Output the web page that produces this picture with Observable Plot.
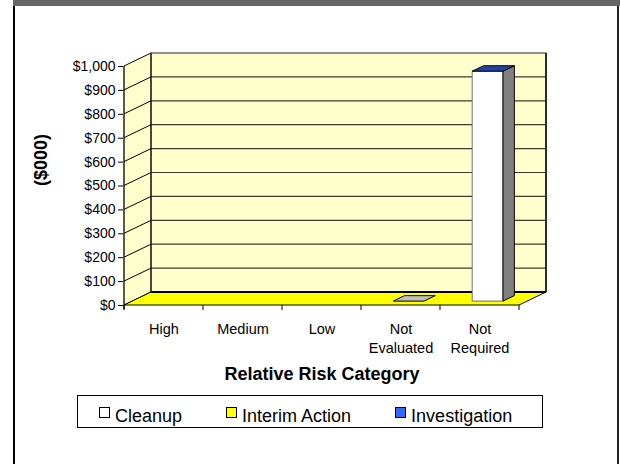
<!DOCTYPE html>
<html>
<head>
<meta charset="utf-8">
<script src="https://cdn.jsdelivr.net/npm/d3@7"></script>
<script src="https://cdn.jsdelivr.net/npm/@observablehq/plot@0.6"></script>
<style>
  body { margin: 0; background: #fff; font-family: "Liberation Sans", Arial, sans-serif; }
  #wrap { position: relative; width: 620px; height: 464px; overflow: hidden; background: #fff; }
  #topbar { position: absolute; left: 13px; top: 0; width: 607px; height: 6px; background: #666; }
  #lline { position: absolute; left: 13px; top: 6px; width: 2px; height: 458px; background: #000; }
  #rline { position: absolute; left: 617px; top: 6px; width: 2px; height: 458px; background: #222; }
  #chart { position: absolute; left: 0; top: 0; }
  #legend { position: absolute; left: 77px; top: 395px; width: 466px; height: 33px; box-sizing: border-box;
            border: 1px solid #000; display: flex; padding-left: 21px; padding-top: 11px; gap: 44px;
            font-size: 18px; line-height: 18px; color: #000; }
  .item { display: flex; align-items: flex-start; white-space: nowrap; }
  .sw { width: 11px; height: 11px; box-sizing: border-box; border: 1px solid #000; margin-right: 5px; }
</style>
</head>
<body>
<div id="wrap">
  <div id="topbar"></div>
  <div id="lline"></div>
  <div id="rline"></div>
  <div id="chart"></div>
  <div id="legend"></div>
</div>
<script>
// ---- data ----
const categories = ["High", "Medium", "Low", "Not Evaluated", "Not Required"];
const categoryLabels = ["High", "Medium", "Low", "Not\nEvaluated", "Not\nRequired"];
const seriesNames = ["Cleanup", "Interim Action", "Investigation"];
const cleanup = [null, null, null, 0, 962];
const interimAction = [null, null, null, null, null];
const investigation = [null, null, null, null, 0];
const yTicks = [0, 100, 200, 300, 400, 500, 600, 700, 800, 900, 1000];
const xTitle = "Relative Risk Category";
const yTitle = "($000)";

// ---- style ----
const seriesValues = [cleanup, interimAction, investigation];
const faceColors = {
  front: ["#FFFFFF", "#FFFF00", "#3366FF"],
  side:  ["#808080", "#999900", "#1A3380"],
  top:   ["#C0C0C0", "#CCCC00", "#2244AA"],
  legend:["#FFFFFF", "#FFFF00", "#3366FF"]
};
const DEPTH = {dx: 27, dy: -13};          // wall depth projection
const BAR = {width: 0.39, front: 0.3, depth: 0.42};
const WALL = "#FFFFCC", FLOOR = "#FFFF00";

function bandOf(x) {
  return typeof x.bandwidth === "function" ? x.bandwidth() : x.bandwidth;
}
function poly(g, pts, fill, stroke, sw) {
  g.append("polygon").attr("points", pts.map(p => p.join(",")).join(" "))
    .attr("fill", fill).attr("stroke", stroke || "none").attr("stroke-width", sw || 1)
    .attr("stroke-linejoin", "miter");
}
function line(g, a, b, stroke, sw) {
  g.append("line").attr("x1", a[0]).attr("y1", a[1]).attr("x2", b[0]).attr("y2", b[1])
    .attr("stroke", stroke).attr("stroke-width", sw || 1);
}

function walls(index, scales) {
  const x = scales.x, y = scales.y, bw = bandOf(x);
  const x0 = x(categories[0]), x1 = x(categories[categories.length - 1]) + bw;
  const yB = y(yTicks[0]), yT = y(yTicks[yTicks.length - 1]);
  const {dx, dy} = DEPTH;
  const g = d3.create("svg:g");
  // side wall
  poly(g, [[x0, yB], [x0, yT], [x0 + dx, yT + dy], [x0 + dx, yB + dy]], WALL);
  // back wall
  poly(g, [[x0 + dx, yT + dy], [x1 + dx, yT + dy], [x1 + dx, yB + dy], [x0 + dx, yB + dy]], WALL, "#808080", 1.2);
  // gridlines
  for (const v of yTicks) {
    const yy = y(v);
    if (v !== yTicks[yTicks.length - 1]) line(g, [x0 + dx, yy + dy], [x1 + dx, yy + dy], "#3a3a30", 1.2);
    line(g, [x0, yy], [x0 + dx, yy + dy], "#000", 1);
  }
  line(g, [x0 + dx, yT + dy], [x1 + dx, yT + dy], "#808080", 1.5);
  line(g, [x1 + dx, yT + dy], [x1 + dx, yB + dy], "#000", 1.5);
  line(g, [x0 + dx, yT + dy], [x0 + dx, yB + dy], "#000", 1.2);
  // floor
  poly(g, [[x0, yB], [x1, yB], [x1 + dx, yB + dy], [x0 + dx, yB + dy]], FLOOR, "#000", 1);
  line(g, [x0 + dx, yB + dy], [x1 + dx, yB + dy], "#000", 2.2);
  // front axis line
  line(g, [x0, yT], [x0, yB + 4], "#000", 1.3);
  // category boundary ticks
  for (let i = 0; i <= categories.length; i++) {
    const bx = x0 + i * bw;
    line(g, [bx, yB], [bx, yB + 5], "#000", 1);
  }
  return g.node();
}

function bars(index, scales) {
  const x = scales.x, y = scales.y, bw = bandOf(x);
  const {dx, dy} = DEPTH;
  const fdx = BAR.front * dx, fdy = BAR.front * dy;
  const bdx = BAR.depth * dx, bdy = BAR.depth * dy;
  const w = BAR.width * bw;
  const g = d3.create("svg:g");
  categories.forEach((c, i) => {
    let base = 0, last = -1, topY = null, xl = 0, xr = 0;
    seriesValues.forEach((vals, s) => {
      const v = vals[i];
      if (v == null) return;
      xl = x(c) + (bw - w) / 2 + fdx; xr = xl + w;
      const yb = y(base) + fdy, yt = y(base + v) + fdy;
      if (v > 0) {
        poly(g, [[xl, yb], [xr, yb], [xr, yt], [xl, yt]], faceColors.front[s], "#707070", 1);
        poly(g, [[xr, yb], [xr, yt], [xr + bdx, yt + bdy], [xr + bdx, yb + bdy]], faceColors.side[s], "#000", 1);
      }
      base += v; last = s; topY = yt;
    });
    if (last >= 0) {
      poly(g, [[xl, topY], [xr, topY], [xr + bdx, topY + bdy], [xl + bdx, topY + bdy]], faceColors.top[last], "#000", 1);
    }
  });
  return g.node();
}

const plot = Plot.plot({
  width: 620,
  height: 392,
  marginLeft: 123,
  marginRight: 100,
  marginTop: 66,
  marginBottom: 87,
  style: {fontFamily: '"Liberation Sans", Arial, sans-serif', fontSize: "14px", color: "#000", background: "transparent", overflow: "visible"},
  x: {type: "band", domain: categories, padding: 0},
  y: {type: "linear", domain: [0, 1000]},
  marks: [
    walls,
    Plot.axisY({ticks: yTicks, tickFormat: d => "$" + d3.format(",")(d), tickSize: 5, tickPadding: 3, fontSize: 14, label: null}),
    Plot.axisX({tickSize: 0, tickPadding: 14, tickFormat: d => categoryLabels[categories.indexOf(d)], fontSize: 14.5, lineHeight: 1.36, label: null}),
    bars,
    Plot.text([yTitle], {frameAnchor: "left", text: d => d, rotate: -90, dx: -82, fontWeight: "bold", fontSize: 18}),
    Plot.text([xTitle], {frameAnchor: "bottom", text: d => d, dy: 74.5, fontWeight: "bold", fontSize: 18})
  ]
});
document.getElementById("chart").appendChild(plot);

// legend
const legend = d3.select("#legend");
seriesNames.forEach((name, s) => {
  const item = legend.append("div").attr("class", "item");
  item.append("div").attr("class", "sw").style("background", faceColors.legend[s]);
  item.append("span").text(name);
});
</script>
</body>
</html>
